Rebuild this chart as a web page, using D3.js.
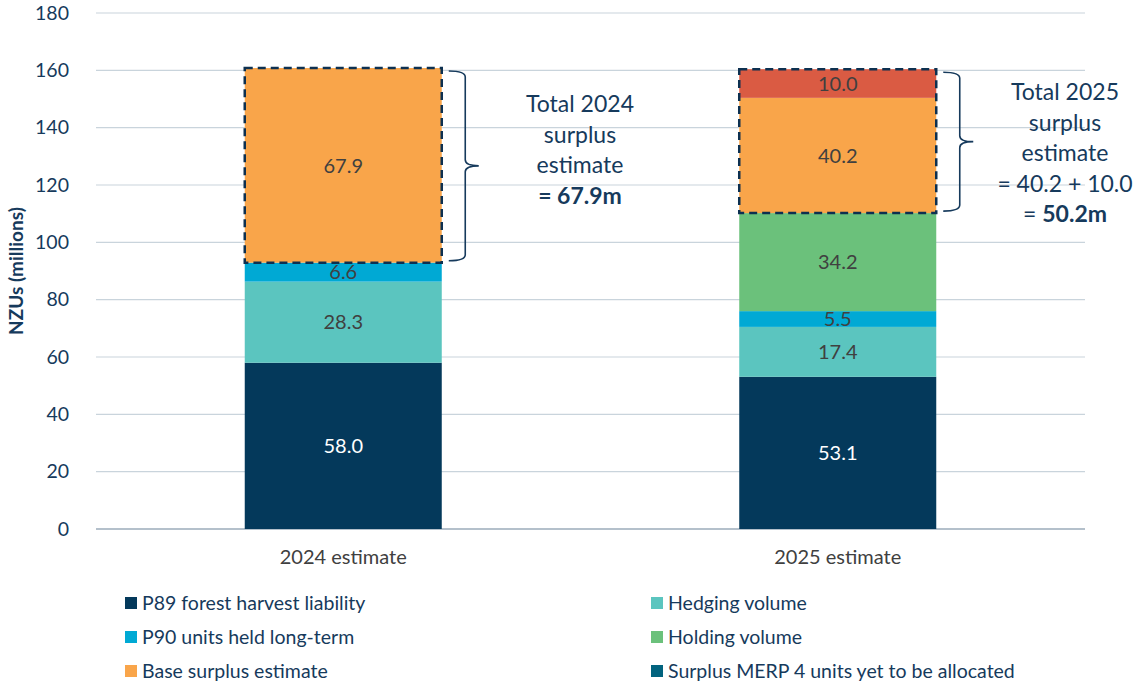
<!DOCTYPE html>
<html><head><meta charset="utf-8">
<script src="https://cdn.jsdelivr.net/npm/d3@7"></script>
<style>body{margin:0;background:#fff;} svg{display:block;font-family:Lato,"Open Sans",sans-serif;}</style>
</head><body>
<svg id="chart" width="1133" height="684"></svg>
<script>
const categories = ["2024 estimate", "2025 estimate"];
const seriesNames = ["P89 forest harvest liability", "Hedging volume", "P90 units held long-term", "Holding volume", "Base surplus estimate", "Surplus MERP 4 units yet to be allocated"];
const p89Values = [58.0, 53.1];
const hedgingValues = [28.3, 17.4];
const p90Values = [6.6, 5.5];
const holdingValues = [0, 34.2];
const baseSurplusValues = [67.9, 40.2];
const merpValues = [0, 10.0];
const yTicks = [0, 20, 40, 60, 80, 100, 120, 140, 160, 180];
const annotation2024 = ["Total 2024", "surplus", "estimate", "**= 67.9m"];
const annotation2025 = ["Total 2025", "surplus", "estimate", "= 40.2 + 10.0", "= **50.2m"];

const barColors = ["#04395B", "#5BC5BF", "#00A9D4", "#6BC17B", "#F9A54A", "#DA5B43"];
const legendColors = ["#04395B", "#5BC5BF", "#00A9D4", "#6BC17B", "#F9A54A", "#02637E"];
const navy = "#163a5c";

const allValues = [p89Values, hedgingValues, p90Values, holdingValues, baseSurplusValues, merpValues];
const data = categories.map((c, i) => {
  const o = {cat: c};
  seriesNames.forEach((s, j) => o[s] = allValues[j][i]);
  return o;
});

const svg = d3.select("#chart");
const margin = {left: 96, right: 48, top: 13, bottom: 155};
const W = 1133, H = 684;
const x = d3.scaleBand().domain(categories).range([margin.left, W - margin.right]).paddingInner(0.6016).paddingOuter(0.3008);
const y = d3.scaleLinear().domain([0, 180]).range([H - margin.bottom, margin.top]);

// gridlines
svg.append("g").selectAll("line").data(yTicks).join("line")
  .attr("x1", margin.left).attr("x2", W - margin.right)
  .attr("y1", d => y(d)).attr("y2", d => y(d))
  .attr("stroke", d => d === 0 ? "#b4c0cb" : "#c9d4dc")
  .attr("stroke-width", d => d === 0 ? 2 : 1.2);

// y axis
const yAxis = d3.axisLeft(y).tickValues(yTicks).tickSize(0).tickPadding(27);
const ga = svg.append("g").attr("transform", `translate(${margin.left},0)`).call(yAxis);
ga.select(".domain").remove();
ga.selectAll("text").attr("font-size", 19.5).attr("fill", navy).attr("font-family", "Lato,sans-serif");

svg.append("text").attr("transform", `translate(23,${y(90)}) rotate(-90)`)
  .attr("text-anchor", "middle").attr("font-size", 19).attr("font-weight", "bold").attr("fill", navy)
  .text("NZUs (millions)");

// stacks
const stack = d3.stack().keys(seriesNames)(data);
const layers = svg.append("g").selectAll("g").data(stack).join("g")
  .attr("fill", (d, i) => barColors[i]);
layers.selectAll("rect").data(d => d.map(v => ({v, key: d.key}))).join("rect")
  .attr("x", d => x(d.v.data.cat)).attr("width", x.bandwidth())
  .attr("y", d => y(d.v[1])).attr("height", d => y(d.v[0]) - y(d.v[1]));

// value labels
const labels = [];
stack.forEach((layer, i) => layer.forEach(v => {
  const val = v[1] - v[0];
  if (val > 0) labels.push({cat: v.data.cat, mid: (v[0] + v[1]) / 2, val, i});
}));
svg.append("g").selectAll("text").data(labels).join("text")
  .attr("x", d => x(d.cat) + x.bandwidth() / 2).attr("y", d => y(d.mid))
  .attr("dy", "0.36em").attr("text-anchor", "middle").attr("font-size", 20)
  .attr("fill", d => d.i === 0 ? "#ffffff" : "#404040")
  .text(d => d.val.toFixed(1));

// dashed surplus boxes
const surplusBoxes = stack[4].map((v, i) => ({cat: v.data.cat, lo: v[0], hi: stack[5][i][1]}));
svg.append("g").selectAll("rect").data(surplusBoxes).join("rect")
  .attr("x", d => x(d.cat)).attr("width", x.bandwidth())
  .attr("y", d => y(d.hi)).attr("height", d => y(d.lo) - y(d.hi))
  .attr("fill", "none").attr("stroke", "#0d3050").attr("stroke-width", 2.5).attr("stroke-dasharray", "8,5");

// braces
function brace(x0, yTop, yBot, w) {
  const ym = (yTop + yBot) / 2, xm = x0 + w * 0.55, r = 6;
  return `M${x0},${yTop} Q${xm},${yTop} ${xm},${yTop + r} L${xm},${ym - r} Q${xm},${ym} ${x0 + w},${ym} Q${xm},${ym} ${xm},${ym + r} L${xm},${yBot - r} Q${xm},${yBot} ${x0},${yBot}`;
}
surplusBoxes.forEach(d => {
  const bx = x(d.cat) + x.bandwidth() + 7;
  svg.append("path").attr("d", brace(bx, y(d.hi) + 3, y(d.lo) - 2, 30))
    .attr("fill", "none").attr("stroke", navy).attr("stroke-width", 1.6);
});

// annotations
function annot(lines, cx, y0) {
  const t = svg.append("text").attr("text-anchor", "middle").attr("font-size", 23).attr("fill", navy);
  lines.forEach((l, i) => {
    const ty = y0 + i * 30.5;
    if (l.includes("**")) {
      const [a, b] = l.split("**");
      if (a) t.append("tspan").attr("x", cx).attr("y", ty).text(a);
      const tb = t.append("tspan").attr("font-weight", "bold").text(b);
      if (!a) tb.attr("x", cx).attr("y", ty);
    } else {
      t.append("tspan").attr("x", cx).attr("y", ty).text(l);
    }
  });
}
annot(annotation2024, 580, 112);
annot(annotation2025, 1065, 100);

// x labels
svg.append("g").selectAll("text").data(categories).join("text")
  .attr("x", d => x(d) + x.bandwidth() / 2).attr("y", 564)
  .attr("text-anchor", "middle").attr("font-size", 20).attr("fill", "#404040").text(d => d);

// legend
const legendOrder = [0, 1, 2, 3, 4, 5];
const leg = svg.append("g").selectAll("g").data(legendOrder).join("g")
  .attr("transform", (d, k) => `translate(${k % 2 === 0 ? 125 : 651},${603 + Math.floor(k / 2) * 34})`);
leg.append("rect").attr("x", 0).attr("y", -6).attr("width", 12).attr("height", 12).attr("fill", d => legendColors[d]);
leg.append("text").attr("x", 17).attr("y", 0).attr("dy", "0.36em").attr("font-size", 19.5).attr("fill", navy)
  .text(d => seriesNames[d]);
</script>
</body></html>
